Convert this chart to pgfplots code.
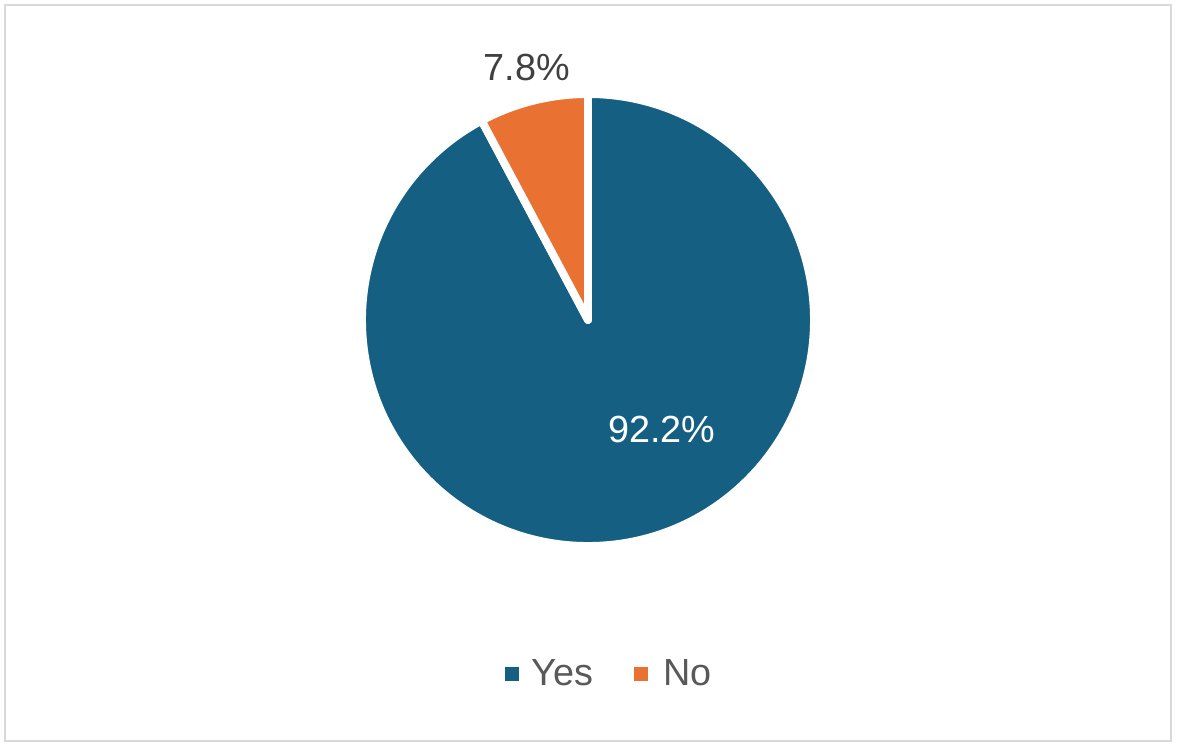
\documentclass[border=0pt]{standalone}
\usepackage{fontspec}
\setmainfont{Liberation Sans}
\usepackage{pgfplots}
\usepackage{pgfplotstable}
\pgfplotsset{compat=1.18}
\definecolor{YesBlue}{HTML}{156082}
\definecolor{NoOrange}{HTML}{E97132}
\definecolor{LblGray}{HTML}{404040}
\definecolor{LegGray}{HTML}{595959}
\definecolor{FrameGray}{HTML}{D9D9D9}

\pgfplotstableread{
label value
Yes 92.2
No 7.8
}\piedata

\begin{document}
\begin{tikzpicture}
  \pgfplotstablegetelem{0}{value}\of\piedata \let\vyes\pgfplotsretval
  \pgfplotstablegetelem{1}{value}\of\piedata \let\vno\pgfplotsretval
  \pgfmathsetmacro\endyes{90-\vyes*3.6}
  \pgfmathsetmacro\endno{90+\vno*3.6}
  \begin{axis}[
    scale only axis,width=23.54cm,height=15.02cm,
    xmin=0,xmax=1177,ymin=0,ymax=751,
    hide axis,clip=false]
    \path (axis cs:0,0) rectangle (axis cs:1177,751);
    \draw[FrameGray,line width=1.2pt] (axis cs:5,10) rectangle (axis cs:1171,746);
    % slices, white outline gives the gap
    \filldraw[fill=YesBlue,draw=white,line width=4.5pt,line join=round]
      (axis cs:588,431) -- ++(90:4.52cm)
      arc[start angle=90,end angle=\endyes,radius=4.52cm] -- cycle;
    \filldraw[fill=NoOrange,draw=white,line width=4.5pt,line join=round]
      (axis cs:588,431) -- ++(90:4.52cm)
      arc[start angle=90,end angle=\endno,radius=4.52cm] -- cycle;
    % data labels
    \node[text=LblGray,font=\fontsize{21.5}{25}\selectfont] at (axis cs:527,683.5) {\vno\%};
    \node[text=white,font=\fontsize{21.5}{25}\selectfont] at (axis cs:662,322) {\vyes\%};
    % legend
    \fill[YesBlue] (axis cs:505,70) rectangle (axis cs:519,84);
    \node[anchor=west,inner sep=0pt,text=LegGray,font=\fontsize{21.5}{25}\selectfont] at (axis cs:531,78) {Yes};
    \fill[NoOrange] (axis cs:634,70) rectangle (axis cs:648,84);
    \node[anchor=west,inner sep=0pt,text=LegGray,font=\fontsize{21.5}{25}\selectfont] at (axis cs:663,78) {No};
  \end{axis}
\end{tikzpicture}
\end{document}
